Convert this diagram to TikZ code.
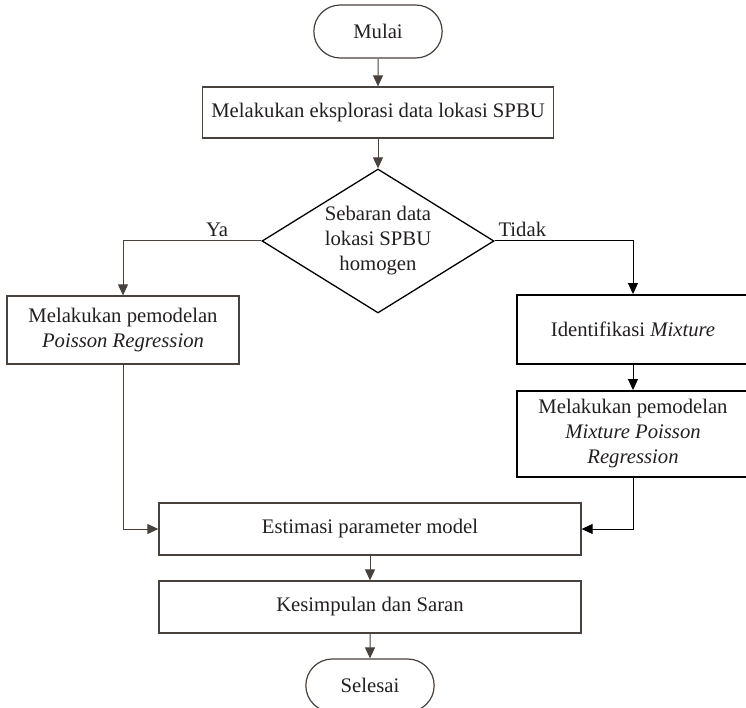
\documentclass[tikz,border=0pt]{standalone}
\usepackage{fontspec}
\setmainfont{Liberation Serif}
\usetikzlibrary{shapes.geometric, shapes.misc, arrows.meta}
\usepackage{xcolor}
\definecolor{LineGrey}{HTML}{48413C}
\definecolor{TextGrey}{HTML}{231F20}

\begin{document}
\begin{tikzpicture}[x=1pt, y=-1pt,
    font=\fontsize{20.7}{25}\selectfont,
    every node/.style={text=TextGrey},
    terminal/.style={draw=LineGrey, line width=1.2pt, rounded rectangle, minimum width=135pt, minimum height=53pt},
    process/.style={draw=LineGrey, line width=1.3pt, rectangle, align=center},
    processdark/.style={draw=black, line width=1.9pt, rectangle, align=center, minimum width=232pt},
    decision/.style={draw=black, line width=1.3pt, diamond, aspect=1.6, align=center, inner sep=0pt, minimum width=232pt, minimum height=144pt},
    flow/.style={draw=LineGrey, line width=1pt, -{Triangle[width=10pt,length=11pt]}},
    flowdark/.style={draw=black, line width=1pt, -{Triangle[width=10pt,length=11pt]}}]
                \clip (0,0) rectangle (746,708);
                % Nodes
                \node[terminal] (mulai) at (378,31.5) {Mulai};
                \node[process, minimum width=351pt, minimum height=51pt] (eksplor) at (378,112.5) {Melakukan eksplorasi data lokasi SPBU};
                \node[decision] (homogen) at (378,241) {Sebaran data\\lokasi SPBU\\homogen};
                \node[process, minimum width=232pt, minimum height=68pt] (pois) at (123,330) {Melakukan pemodelan\\\textit{Poisson Regression}};
                \node[processdark, minimum height=69pt] (ident) at (633,329.5) {Identifikasi \textit{Mixture}};
                \node[processdark, minimum height=86pt] (mixpois) at (633,434) {Melakukan pemodelan\\\textit{Mixture Poisson}\\\textit{Regression}};
                \node[process, minimum width=422pt, minimum height=52pt] (estim) at (370,529) {Estimasi parameter model};
                \node[process, minimum width=422pt, minimum height=52pt] (simpul) at (370,607) {Kesimpulan dan Saran};
                \node[terminal] (selesai) at (370,685.5) {Selesai};

                % Edges
                \draw[flow] (mulai) -- (eksplor);
                \draw[flow] (eksplor) -- (homogen);
                \draw[flow] (homogen.west) -| node[pos=0.16, above] {Ya} (pois.north);
                \draw[flowdark] (homogen.east) -| node[pos=0.1, above] {Tidak} (ident.north);
                \draw[flowdark] (ident) -- (mixpois);
                \draw[flow] (pois.south) |- (estim.west);
                \draw[flowdark] (mixpois.south) |- (estim.east);
                \draw[flow] (estim) -- (simpul);
                \draw[flow] (simpul) -- (selesai);
            \end{tikzpicture}
\end{document}
